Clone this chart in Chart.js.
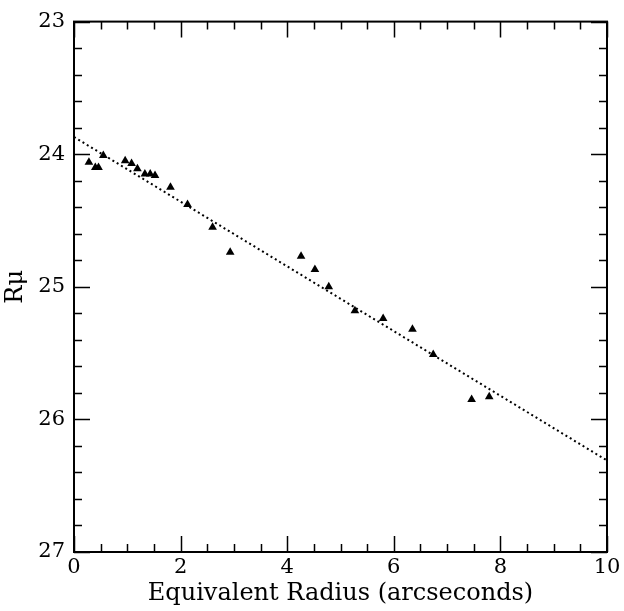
<!DOCTYPE html>
<html>
<head>
<meta charset="utf-8">
<script src="https://cdn.jsdelivr.net/npm/chart.js@4"></script>
<style>
  html, body { margin: 0; padding: 0; background: #fff; }
  #wrap { width: 624px; height: 611px; }
</style>
</head>
<body>
<div id="wrap"><canvas id="profile" width="624" height="611"></canvas></div>
<script>
  // equivalent radius (arcsec) and surface brightness R mu
  const radius = [0.28, 0.40, 0.46, 0.55, 0.96, 1.08, 1.19, 1.33, 1.43, 1.52, 1.81, 2.13,
                  2.60, 2.93, 4.26, 4.52, 4.78, 5.27, 5.80, 6.35, 6.74, 7.46, 7.79];
  const muR = [24.06, 24.10, 24.10, 24.01, 24.05, 24.07, 24.11, 24.15, 24.15, 24.16, 24.25, 24.38,
               24.55, 24.74, 24.77, 24.87, 25.00, 25.18, 25.24, 25.32, 25.51, 25.85, 25.83];

  // dotted exponential fit
  const fitX = [0, 10];
  const fitY = [23.87, 26.31];

  const xTicks = [0, 2, 4, 6, 8, 10];
  const yTicks = [23, 24, 25, 26, 27];

  const tickFont = { family: 'DejaVu Serif', size: 21 };
  const titleFont = { family: 'DejaVu Serif', size: 24 };

  // frame with inward major/minor ticks on all four sides
  const frameTicks = {
    id: 'frameTicks',
    afterDatasetsDraw(chart) {
      const { ctx, chartArea: a, scales: { x, y } } = chart;
      ctx.save();
      ctx.strokeStyle = '#000';
      ctx.lineWidth = 1.5;
      ctx.beginPath();
      for (let i = 0; i <= 20; i++) {
        const px = Math.round(x.getPixelForValue(i * 0.5)) + 0.5;
        const len = i % 4 === 0 ? 16 : 8;
        ctx.moveTo(px, a.bottom); ctx.lineTo(px, a.bottom - len);
        ctx.moveTo(px, a.top); ctx.lineTo(px, a.top + len);
      }
      for (let i = 0; i <= 20; i++) {
        const py = Math.round(y.getPixelForValue(23 + i * 0.2)) + 0.5;
        const len = i % 5 === 0 ? 16 : 8;
        ctx.moveTo(a.left, py); ctx.lineTo(a.left + len, py);
        ctx.moveTo(a.right, py); ctx.lineTo(a.right - len, py);
      }
      ctx.stroke();
      ctx.lineWidth = 2;
      ctx.strokeRect(a.left, a.top, a.right - a.left, a.bottom - a.top);
      ctx.restore();
    }
  };

  new Chart(document.getElementById('profile'), {
    type: 'scatter',
    data: {
      datasets: [
        {
          label: 'data',
          data: radius.map((r, i) => ({ x: r, y: muR[i] })),
          pointStyle: 'triangle',
          pointRadius: 5,
          backgroundColor: '#000',
          borderColor: '#000',
          borderWidth: 0
        },
        {
          label: 'fit',
          type: 'line',
          data: fitX.map((r, i) => ({ x: r, y: fitY[i] })),
          showLine: true,
          pointRadius: 0,
          borderColor: '#000',
          borderWidth: 2,
          borderDash: [2, 3]
        }
      ]
    },
    plugins: [frameTicks],
    options: {
      responsive: false,
      animation: false,
      layout: { padding: { top: 14, right: 17, left: 0, bottom: 0 } },
      plugins: { legend: { display: false }, tooltip: { enabled: false } },
      scales: {
        x: {
          type: 'linear',
          min: 0, max: 10,
          afterBuildTicks: s => { s.ticks = xTicks.map(v => ({ value: v })); },
          afterFit: s => { s.height = 59; },
          grid: { display: false, drawTicks: false },
          border: { display: false },
          ticks: { color: '#000', font: tickFont, padding: 3, maxRotation: 0 },
          title: { display: true, text: 'Equivalent Radius (arcseconds)', color: '#000', font: titleFont, padding: { top: 0, bottom: 3 } }
        },
        y: {
          type: 'linear',
          reverse: true,
          min: 23, max: 27,
          afterBuildTicks: s => { s.ticks = yTicks.map(v => ({ value: v })); },
          afterFit: s => { s.width = 74; },
          grid: { display: false, drawTicks: false },
          border: { display: false },
          ticks: { color: '#000', font: tickFont, padding: 9 },
          title: { display: true, text: 'Rμ', color: '#000', font: titleFont, padding: { top: 1, bottom: 0 } }
        }
      }
    }
  });
</script>
</body>
</html>
